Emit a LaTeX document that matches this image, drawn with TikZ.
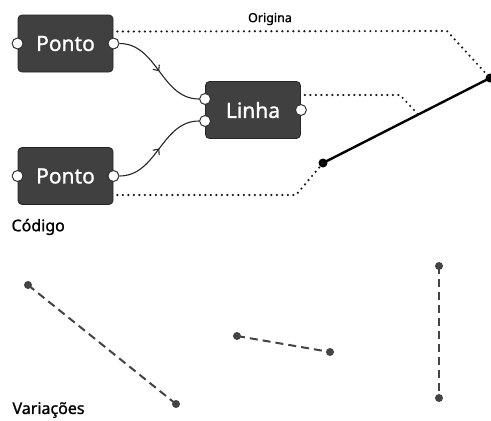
\documentclass[tikz,border=0pt]{standalone}
\usepackage{fontspec}
\setmainfont{Noto Sans}
\newfontfamily\semifont[FakeBold=1.2]{Noto Sans}
\usetikzlibrary{arrows.meta,decorations.markings,calc}
\definecolor{boxgray}{HTML}{404040}
\definecolor{inkgray}{HTML}{444444}
\tikzset{
  comp/.style={draw=black!85, fill=boxgray, rounded corners=4pt, line width=0.8pt,
    minimum width=95pt, minimum height=57pt, text=white, font=\semifont\fontsize{21}{24}\selectfont},
  port/.style={circle, draw=black!80, fill=white, line width=1pt, inner sep=0pt, minimum size=11pt},
  wire/.style={draw=black!85, line width=1.1pt,
    postaction={decorate, decoration={markings,
      mark=at position 0.5 with {\arrow{Straight Barb[length=4.5pt,width=8pt]}}}}},
  guide/.style={black!90, line width=2.4pt, dash pattern=on 0pt off 5.5pt, line cap=round},
  variant/.style={inkgray, line width=2pt, dash pattern=on 8pt off 5pt},
  title/.style={anchor=west, font=\semifont\fontsize{16}{18}\selectfont}
}
\begin{document}
\begin{tikzpicture}[x=1pt,y=-1pt]
\useasboundingbox (0,0) rectangle (491,421);
% --- Components ---
\node[comp] (ptA) at (65.5,43.5) {Ponto};
\node[comp] (ptB) at (65.5,176) {Ponto};
\node[comp] (lin) at (253,110) {Linha};
% Ports
\node[port] (ptAin)  at (ptA.west) {};
\node[port] (ptAout) at (ptA.east) {};
\node[port] (ptBin)  at (ptB.west) {};
\node[port] (ptBout) at (ptB.east) {};
\node[port] (linA)   at ([yshift=11pt]lin.west) {};
\node[port] (linB)   at ([yshift=-11pt]lin.west) {};
\node[port] (linout) at (lin.east) {};
% Wires
\draw[wire] (ptAout) to[out=0,in=180] (linA);
\draw[wire] (ptBout) to[out=0,in=180] (linB);
% --- Geometry ---
\coordinate (ln0) at (323,163);
\coordinate (ln1) at (490,78);
\coordinate (lnmid) at ($(ln0)!0.57!(ln1)$);
\draw[black, line width=2.4pt] (ln0) -- (ln1);
\fill (ln0) circle (4.5pt);
\fill (ln1) circle (4.5pt);
% Guides
\draw[guide] ([yshift=12pt]ptA.east) ++(4,0) -- (447,31) -- (ln1);
\draw[guide] ([yshift=15pt]lin.east) ++(4,0) -- (400,95) -- (lnmid);
\draw[guide] ([yshift=-19pt]ptB.east) ++(4,0) -- (296,195) -- (ln0);
\node[font=\semifont\fontsize{12.5}{14}\selectfont] (orig) at (270,19) {Origina};
% --- Labels ---
\node[title] (cod) at (8,227) {Código};
\node[title] (var) at (9,410) {Variações};
% --- Variations ---
\foreach \ax/\ay/\bx/\by [count=\k] in {28/285/176/404, 237/336/330/352, 439/266/439/398} {
  \coordinate (va\k) at (\ax,\ay);
  \coordinate (vb\k) at (\bx,\by);
  \draw[variant] (va\k) -- (vb\k);
  \fill[inkgray] (va\k) circle (4pt);
  \fill[inkgray] (vb\k) circle (4pt);
}
\end{tikzpicture}
\end{document}
